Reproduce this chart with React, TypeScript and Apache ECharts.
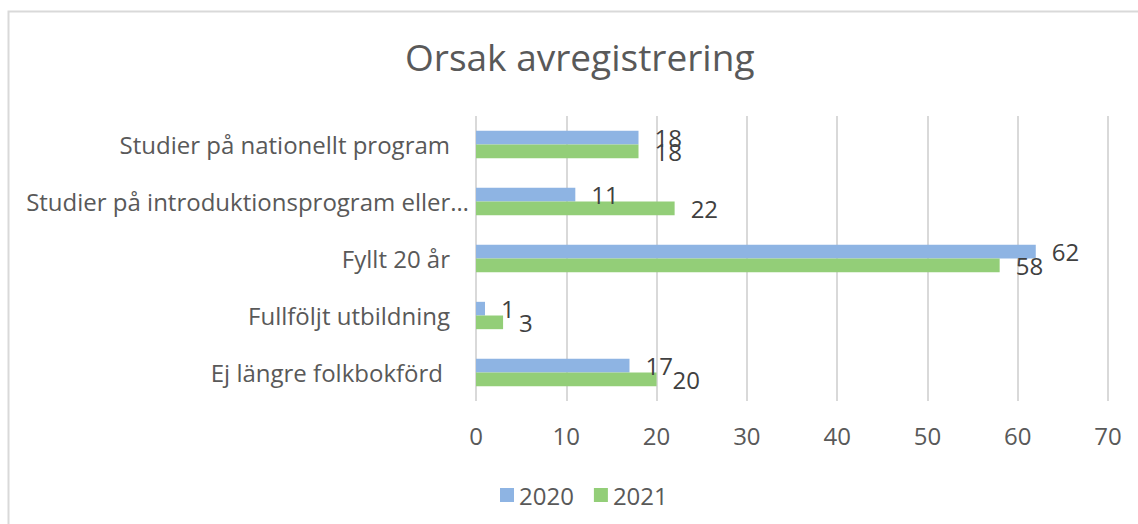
import React, { useEffect, useRef } from "react";
import * as echarts from "echarts";

const title = "Orsak avregistrering";
const categories = [
  "Studier på nationellt program",
  "Studier på introduktionsprogram eller…",
  "Fyllt 20 år",
  "Fullföljt utbildning",
  "Ej längre folkbokförd",
];
const seriesNames = ["2020", "2021"];
const values2020 = [18, 11, 62, 1, 17];
const values2021 = [18, 22, 58, 3, 20];
const xTicks = { min: 0, max: 70, interval: 10 };

const FONT = "'Open Sans', sans-serif";

export default function App() {
  const ref = useRef<HTMLDivElement>(null);
  useEffect(() => {
    if (!ref.current) return;
    const chart = echarts.init(ref.current, undefined, { renderer: "svg" });
    const padFor = (v: string) => {
      if (v === categories[1]) return "{b|" + v + "}";
      if (v === categories[4]) return "{c|" + v + "}";
      return "{a|" + v + "}";
    };
    chart.setOption({
      animation: false,
      backgroundColor: "#ffffff",
      textStyle: { fontFamily: FONT },
      title: {
        text: title,
        left: 400,
        top: 33,
        textStyle: { fontFamily: FONT, fontSize: 37, fontWeight: "normal", color: "#595959" },
      },
      graphic: [
        {
          type: "rect",
          shape: { x: 8.5, y: 11.5, width: 1200, height: 600 },
          style: { fill: "none", stroke: "#D9D9D9", lineWidth: 2 },
          silent: true,
        },
      ],
      legend: {
        data: seriesNames,
        left: 495,
        top: 478,
        icon: "rect",
        itemWidth: 14,
        itemHeight: 14,
        itemGap: 20,
        textStyle: { fontFamily: FONT, fontSize: 24, color: "#595959", padding: [0, 0, 0, 0] },
      },
      grid: { left: 476, width: 632, top: 116, height: 285 },
      xAxis: {
        type: "value",
        min: xTicks.min,
        max: xTicks.max,
        interval: xTicks.interval,
        axisLine: { show: false },
        axisTick: { show: false },
        splitLine: { show: true, lineStyle: { color: "#D9D9D9", width: 2 } },
        axisLabel: { fontFamily: FONT, fontSize: 24, color: "#595959", margin: 22 },
      },
      yAxis: {
        type: "category",
        data: categories,
        inverse: true,
        axisLine: { show: false },
        axisTick: { show: false },
        axisLabel: {
          margin: 7,
          formatter: padFor,
          rich: {
            a: { fontFamily: FONT, fontSize: 24, color: "#595959", padding: [0, 19, 0, 0] },
            b: { fontFamily: FONT, fontSize: 24, color: "#595959", padding: [0, 0, 0, 0] },
            c: { fontFamily: FONT, fontSize: 24, color: "#595959", padding: [0, 26, 0, 0] },
          },
        },
      },
      series: [
        {
          name: seriesNames[0],
          type: "bar",
          data: values2020,
          barGap: "0%",
          barCategoryGap: "52%",
          itemStyle: { color: "#8EB4E3" },
          label: {
            show: true,
            position: "right",
            distance: 16,
            fontFamily: FONT,
            fontSize: 24,
            color: "#404040",
          },
        },
        {
          name: seriesNames[1],
          type: "bar",
          data: values2021,
          barGap: "0%",
          barCategoryGap: "52%",
          itemStyle: { color: "#93CE78" },
          label: {
            show: true,
            position: "right",
            distance: 16,
            fontFamily: FONT,
            fontSize: 24,
            color: "#404040",
          },
        },
      ],
    });
    return () => chart.dispose();
  }, []);
  return (
    <div
      ref={ref}
      style={{ position: "fixed", left: 0, top: 0, width: 1138, height: 524 }}
    />
  );
}
